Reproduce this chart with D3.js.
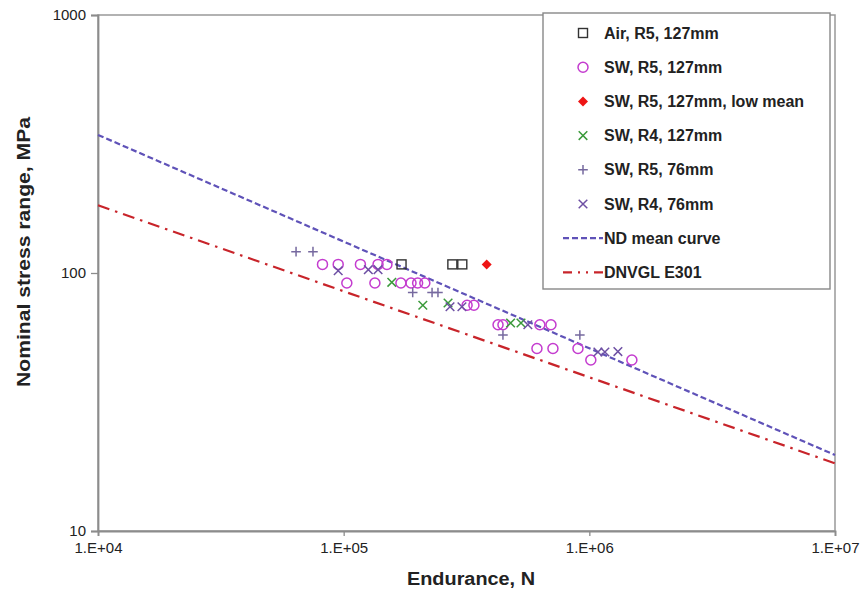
<!DOCTYPE html>
<html>
<head>
<meta charset="utf-8">
<script src="https://cdn.jsdelivr.net/npm/d3@7"></script>
<style>
  body { margin: 0; background: #fff; }
  text { font-family: "Liberation Sans", Arial, sans-serif; fill: #222; }
</style>
</head>
<body>
<div id="canvas"></div>
<script>
// endurance N, stress range MPa
const air_r5_127 = [[172000, 108], [277000, 108], [304000, 108]];
const sw_r5_127 = [
  [82000, 108], [95000, 108], [117000, 108], [138000, 108], [150000, 108],
  [103000, 91.5], [134000, 91.5], [171000, 91.5], [188000, 91.5], [200000, 91.5], [214000, 91.5],
  [318000, 75], [339000, 75],
  [425000, 63], [445000, 63], [629000, 63], [698000, 63],
  [612000, 51], [711000, 51], [899000, 51],
  [1014000, 46], [1490000, 46]
];
const sw_r5_127_low = [[382000, 108]];
const sw_r4_127 = [[157000, 92], [210000, 75], [266000, 76.5], [478000, 64], [527000, 64]];
const sw_r5_76 = [[64000, 121], [75000, 121], [191000, 84], [229000, 84], [242000, 84], [445000, 57.5], [915000, 57.5]];
const sw_r4_76 = [[95000, 102], [126000, 103], [138000, 103], [271000, 74], [303000, 74], [562000, 63], [1084000, 49.4], [1157000, 49.4], [1307000, 49.6]];
const nd_mean = [[1e4, 343], [1e7, 19.7]];
const dnvgl_e = [[1e4, 183], [1e7, 18.3]];

const x_ticks = [1e4, 1e5, 1e6, 1e7];
const x_tick_labels = ['1.E+04', '1.E+05', '1.E+06', '1.E+07'];
const y_ticks = [10, 100, 1000];

const legend_items = [
  { label: 'Air, R5, 127mm', kind: 'square' },
  { label: 'SW, R5, 127mm', kind: 'circle' },
  { label: 'SW, R5, 127mm, low mean', kind: 'diamond' },
  { label: 'SW, R4, 127mm', kind: 'xgreen' },
  { label: 'SW, R5, 76mm', kind: 'plus' },
  { label: 'SW, R4, 76mm', kind: 'xpurple' },
  { label: 'ND mean curve', kind: 'nd' },
  { label: 'DNVGL E301', kind: 'dnv' }
];

const W = 866, H = 603;
const m = { left: 98, right: 835, top: 15, bottom: 531 };

const svg = d3.select('#canvas').append('svg')
  .attr('width', W).attr('height', H)
  .style('background', '#fff');

const x = d3.scaleLog().domain([1e4, 1e7]).range([m.left, m.right]);
const y = d3.scaleLog().domain([10, 1000]).range([m.bottom, m.top]);

const axisColor = '#999';
const ndColor = '#5f52b8';
const dnvColor = '#c8242a';

// plot frame
svg.append('rect')
  .attr('x', m.left).attr('y', m.top)
  .attr('width', m.right - m.left).attr('height', m.bottom - m.top)
  .attr('fill', 'none').attr('stroke', axisColor).attr('stroke-width', 1.5);

// axes
const xAxis = svg.append('g')
  .attr('transform', `translate(0,${m.bottom})`)
  .call(d3.axisBottom(x).tickValues(x_ticks).tickFormat((d, i) => x_tick_labels[i]).tickSize(5).tickPadding(6));
const yAxis = svg.append('g')
  .attr('transform', `translate(${m.left},0)`)
  .call(d3.axisLeft(y).tickValues(y_ticks).tickFormat(d3.format('d')).tickSize(7).tickPadding(5));

[xAxis, yAxis].forEach((g) => {
  g.select('.domain').attr('stroke', '#8c8c8c').attr('stroke-width', 1.8);
  g.selectAll('.tick line').attr('stroke', '#8c8c8c').attr('stroke-width', 1.3);
  g.selectAll('.tick text')
    .attr('font-size', '15px')
    .attr('fill', '#333')
    .style('font-family', '"Liberation Sans", Arial, sans-serif');
});

// curves
const line = d3.line().x((d) => x(d[0])).y((d) => y(d[1]));
svg.append('path').datum(dnvgl_e)
  .attr('d', line).attr('fill', 'none')
  .attr('stroke', dnvColor).attr('stroke-width', 2.2)
  .attr('stroke-dasharray', '12,6,2.5,6');
svg.append('path').datum(nd_mean)
  .attr('d', line).attr('fill', 'none')
  .attr('stroke', ndColor).attr('stroke-width', 2.2)
  .attr('stroke-dasharray', '6,3');

// markers
function drawMarker(g, kind, cx, cy) {
  const s = 4.5;
  if (kind === 'square') {
    g.append('rect').attr('x', cx - s).attr('y', cy - s).attr('width', 2 * s).attr('height', 2 * s)
      .attr('fill', 'none').attr('stroke', '#333').attr('stroke-width', 1.4);
  } else if (kind === 'circle') {
    g.append('circle').attr('cx', cx).attr('cy', cy).attr('r', 5)
      .attr('fill', 'none').attr('stroke', '#c43ccf').attr('stroke-width', 1.5);
  } else if (kind === 'diamond') {
    g.append('path').attr('d', `M${cx},${cy - 5}L${cx + 5},${cy}L${cx},${cy + 5}L${cx - 5},${cy}Z`)
      .attr('fill', '#ee1515');
  } else if (kind === 'xgreen' || kind === 'xpurple') {
    const c = kind === 'xgreen' ? '#3b9a3b' : '#6e50a4';
    const r = 4.3;
    g.append('path').attr('d', `M${cx - r},${cy - r}L${cx + r},${cy + r}M${cx - r},${cy + r}L${cx + r},${cy - r}`)
      .attr('stroke', c).attr('stroke-width', 1.5).attr('fill', 'none');
  } else if (kind === 'plus') {
    const r = 4.8;
    g.append('path').attr('d', `M${cx - r},${cy}L${cx + r},${cy}M${cx},${cy - r}L${cx},${cy + r}`)
      .attr('stroke', '#76699f').attr('stroke-width', 1.5).attr('fill', 'none');
  }
}

const series = [
  [sw_r5_127, 'circle'],
  [sw_r4_127, 'xgreen'],
  [sw_r5_76, 'plus'],
  [sw_r4_76, 'xpurple'],
  [air_r5_127, 'square'],
  [sw_r5_127_low, 'diamond']
];
const pts = svg.append('g');
series.forEach(([data, kind]) => {
  data.forEach((d) => drawMarker(pts, kind, x(d[0]), y(d[1])));
});

// legend
const lg = svg.append('g');
lg.append('rect').attr('x', 543).attr('y', 13).attr('width', 287).attr('height', 276)
  .attr('fill', '#fff').attr('stroke', '#888').attr('stroke-width', 1.4);
legend_items.forEach((item, i) => {
  const cy = 33 + i * 34.2;
  if (item.kind === 'nd') {
    lg.append('line').attr('x1', 563).attr('x2', 603).attr('y1', cy).attr('y2', cy)
      .attr('stroke', ndColor).attr('stroke-width', 2.2).attr('stroke-dasharray', '6,3');
  } else if (item.kind === 'dnv') {
    lg.append('line').attr('x1', 563).attr('x2', 603).attr('y1', cy).attr('y2', cy)
      .attr('stroke', dnvColor).attr('stroke-width', 2.2).attr('stroke-dasharray', '9,6,2,6,2,6');
  } else {
    drawMarker(lg, item.kind, 583, cy);
  }
  lg.append('text').attr('x', 604).attr('y', cy + 5.5)
    .attr('font-size', '16px').attr('font-weight', 'bold')
    .text(item.label);
});

// axis titles
svg.append('text')
  .attr('x', 471).attr('y', 585)
  .attr('text-anchor', 'middle')
  .attr('font-size', '18px').attr('font-weight', 'bold')
  .attr('textLength', 128).attr('lengthAdjust', 'spacingAndGlyphs')
  .text('Endurance, N');
svg.append('text')
  .attr('transform', 'translate(30,252) rotate(-90)')
  .attr('text-anchor', 'middle')
  .attr('font-size', '18px').attr('font-weight', 'bold')
  .attr('textLength', 270).attr('lengthAdjust', 'spacingAndGlyphs')
  .text('Nominal stress range, MPa');
</script>
</body>
</html>
